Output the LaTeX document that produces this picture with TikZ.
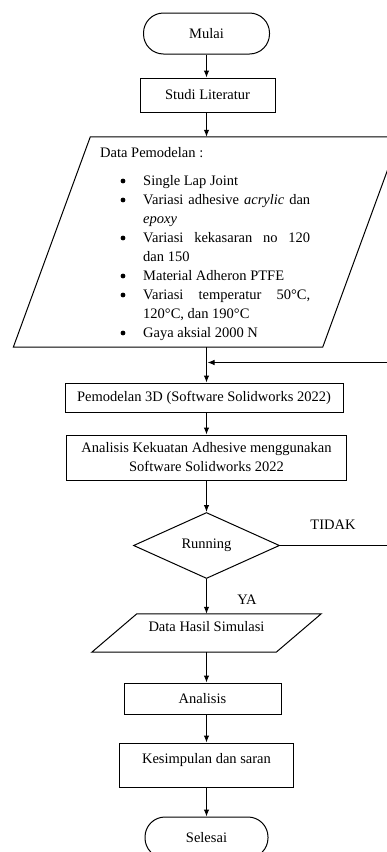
\documentclass[tikz,border=0pt]{standalone}
\usepackage{fontspec}
\setmainfont{Liberation Serif}
\usetikzlibrary{arrows.meta,shapes.geometric,calc}

\begin{document}
\begin{tikzpicture}[x=1pt,y=-1pt,
  every node/.style={font=\fontsize{14.5}{19}\selectfont},
  box/.style={draw, line width=1pt, rectangle, inner sep=0pt},
  term/.style={draw, line width=1pt, rectangle, rounded corners=20pt,
    minimum width=126pt, minimum height=41pt, inner sep=0pt},
  body/.style={rectangle, inner sep=0pt},
  outline/.style={line width=1pt},
  arr/.style={line width=1pt, -{Latex[length=7pt,width=5.5pt]}},
  txt/.style={inner sep=0pt, anchor=base west},
  lowtext/.style={text height=10pt, text depth=12.4pt}
]
\useasboundingbox (0,0) rectangle (387,852);
\clip (0,0) rectangle (387,852);

% start and first step
\node[term] (mulai) at (206.5,33.5) {Mulai};
\node[box, minimum width=135pt, minimum height=34pt] (studi) at (207.5,95) {Studi Literatur};

% input data block (parallelogram around an invisible body)
\node[body, minimum width=309pt, minimum height=210pt] (data) at (206.5,242) {};
\draw[outline] ($(data.north west)+(38.5,0)$) -- ($(data.north east)+(38.5,0)$)
  -- ($(data.south east)+(-38.5,0)$) -- ($(data.south west)+(-38.5,0)$) -- cycle;

\node[txt] (judul) at (100,157) {Data Pemodelan :};
\node[txt] (b1) at (143,185) {Single Lap Joint};
\node[txt] (b2) at (143,204) {\makebox[167pt][s]{Variasi adhesive \textit{acrylic} dan}};
\node[txt] (c2) at (143,223) {\textit{epoxy}};
\node[txt] (b3) at (143,242) {\makebox[167pt][s]{Variasi kekasaran no 120}};
\node[txt] (c3) at (143,261) {dan 150};
\node[txt] (b4) at (143,280) {Material Adheron PTFE};
\node[txt] (b5) at (143,299) {\makebox[167pt][s]{Variasi temperatur 50°C,}};
\node[txt] (c5) at (143,318) {120°C, dan 190°C};
\node[txt] (b6) at (143,337) {Gaya aksial 2000 N};
\foreach \yy in {185,204,242,280,299,337}
  \fill (123,\yy-4) circle (2.4pt);

% modelling and analysis
\node[box, minimum width=278pt, minimum height=29pt] (model) at (204,397.5)
  {Pemodelan 3D (Software Solidworks 2022)};
\node[box, minimum width=280pt, minimum height=45pt, align=center] (kekuatan) at (206.5,457.5)
  {Analisis Kekuatan Adhesive menggunakan\\Software Solidworks 2022};

% decision
\node[draw, line width=1pt, diamond, aspect=2.2, minimum width=146pt,
  minimum height=66pt, inner sep=0pt] (run) at (206.5,545.5) {Running};
\node (tidak) at (333,525) {TIDAK};
\node (ya) at (247,600) {YA};

% output data block
\node[body, minimum width=184pt, minimum height=38pt, lowtext] (hasil) at (206.5,633)
  {Data Hasil Simulasi};
\draw[outline] ($(hasil.north west)+(22.5,0)$) -- ($(hasil.north east)+(22.5,0)$)
  -- ($(hasil.south east)+(-22.5,0)$) -- ($(hasil.south west)+(-22.5,0)$) -- cycle;

% final steps
\node[box, minimum width=157pt, minimum height=31pt] (analisis) at (202.5,698.5) {Analisis};
\node[box, minimum width=174pt, minimum height=44pt, lowtext] (simpul) at (206.5,765)
  {Kesimpulan dan saran};
\node[term, minimum width=123pt] (selesai) at (206.5,837.5) {Selesai};

% connectors
\draw[arr] (mulai.south) -- (mulai.south |- studi.north);
\draw[arr] (data.north |- studi.south) -- (data.north);
\draw[arr] (data.south) -- (data.south |- model.north);
\draw[arr] (kekuatan.north |- model.south) -- (kekuatan.north);
\draw[arr] (kekuatan.south) -- (run.north);
\draw[arr] (run.south) -- (run.south |- hasil.north);
\draw[arr] (hasil.south) -- (hasil.south |- analisis.north);
\draw[arr] (simpul.north |- analisis.south) -- (simpul.north);
\draw[arr] (simpul.south) -- (simpul.south |- selesai.north);

% loop back when the run fails
\coordinate (join) at (207.5,362.5);
\draw[arr] (run.east) -- ++(117,0) |- (join);
\end{tikzpicture}
\end{document}
